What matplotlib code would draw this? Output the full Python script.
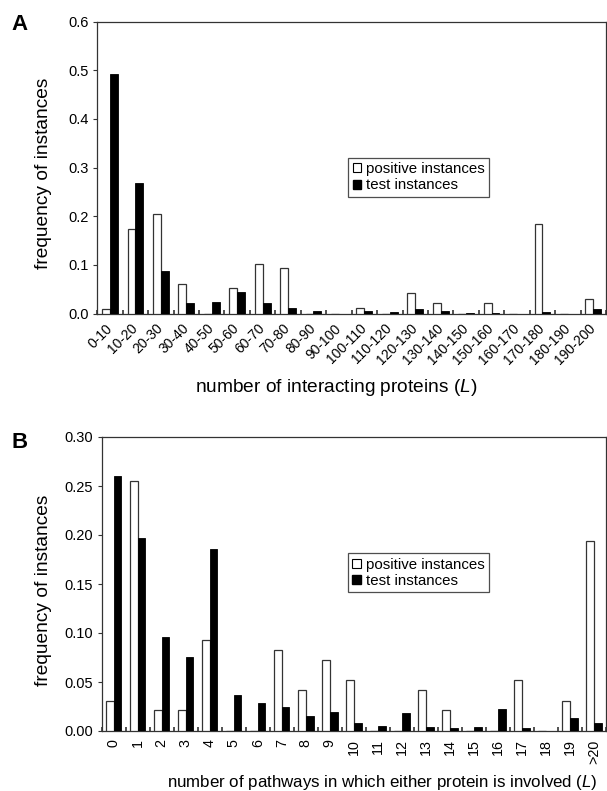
import numpy as np
import matplotlib
matplotlib.use('Agg')
import matplotlib.pyplot as plt
from matplotlib.patches import Patch

plt.rcParams['font.family'] = ['Liberation Sans', 'DejaVu Sans']
plt.rcParams['mathtext.fontset'] = 'custom'
plt.rcParams['mathtext.rm'] = 'Liberation Sans'
plt.rcParams['mathtext.it'] = 'Liberation Sans:italic'

# panel A data
bins_a = ['0-10', '10-20', '20-30', '30-40', '40-50', '50-60', '60-70', '70-80',
          '80-90', '90-100', '100-110', '110-120', '120-130', '130-140', '140-150',
          '150-160', '160-170', '170-180', '180-190', '190-200']
pos_a = [0.010, 0.174, 0.205, 0.062, 0.0, 0.052, 0.103, 0.093, 0.0, 0.0,
         0.011, 0.0, 0.042, 0.021, 0.0, 0.021, 0.0, 0.184, 0.0, 0.031]
test_a = [0.493, 0.268, 0.088, 0.021, 0.025, 0.045, 0.021, 0.012, 0.006, 0.0,
          0.005, 0.004, 0.009, 0.005, 0.002, 0.001, 0.0, 0.003, 0.0, 0.010]

# panel B data
bins_b = [str(i) for i in range(20)] + ['>20']
pos_b = [0.031, 0.255, 0.021, 0.021, 0.093, 0.0, 0.0, 0.083, 0.042, 0.072, 0.052,
         0.0, 0.0, 0.042, 0.021, 0.0, 0.0, 0.052, 0.0, 0.031, 0.194]
test_b = [0.260, 0.197, 0.096, 0.076, 0.186, 0.037, 0.029, 0.024, 0.015, 0.019,
          0.008, 0.005, 0.018, 0.004, 0.003, 0.004, 0.022, 0.003, 0.0, 0.013, 0.008]

fig = plt.figure(figsize=(6.07, 7.91), dpi=100)
W, H = 607, 791

def px_axes(left, top, right, bottom):
    return fig.add_axes([left / W, 1 - bottom / H, (right - left) / W, (bottom - top) / H])

axA = px_axes(97.3, 21.5, 606, 313.7)
axB = px_axes(101.7, 437, 606, 731)


def draw_panel(ax, cats, pos, test, width, ymax, ystep, yfmt, rot, xlabel, xlab_size, leg_xy):
    x = np.arange(len(cats))
    ax.bar(x - width / 2, pos, width, color='white', edgecolor='#333333', linewidth=0.9, zorder=3)
    ax.bar(x + width / 2, test, width, color='black', edgecolor='black', linewidth=0.6, zorder=3)
    ax.set_xlim(-0.5, len(cats) - 0.5)
    ax.set_ylim(0, ymax)
    yt = np.arange(0, ymax + 1e-9, ystep)
    ax.set_yticks(yt)
    ax.set_yticklabels([yfmt.format(v) for v in yt], fontsize=10.5)
    ax.set_xticks(x)
    if rot == 45:
        ax.set_xticklabels(cats, rotation=45, ha='right', va='center',
                           rotation_mode='anchor', fontsize=10)
        ax.tick_params(axis='x', which='major', length=0, pad=9)
    else:
        ax.set_xticklabels(cats, rotation=90, ha='center', va='top', fontsize=10.3)
        ax.tick_params(axis='x', which='major', length=0, pad=6)
    # small marks at the category boundaries
    ax.set_xticks(np.arange(len(cats) + 1) - 0.5, minor=True)
    ax.tick_params(axis='x', which='minor', direction='in', length=3, width=1.2, color='#333333')
    ax.tick_params(axis='y', direction='out', length=3, width=0.8, color='#333333', pad=3)
    for s in ax.spines.values():
        s.set_color('#333333')
        s.set_linewidth(0.9)
    ax.set_xlabel(xlabel, fontsize=xlab_size, va='center')
    handles = [Patch(facecolor='white', edgecolor='black', linewidth=0.8),
               Patch(facecolor='black', edgecolor='black')]
    leg = ax.legend(handles, ['positive instances', 'test instances'], loc='upper left',
                    bbox_to_anchor=leg_xy, borderaxespad=0, fontsize=10.8, frameon=True,
                    fancybox=False, handlelength=0.55, handleheight=0.55, handletextpad=0.35,
                    labelspacing=0.15, borderpad=0.3)
    leg.get_frame().set_edgecolor('#222222')
    leg.get_frame().set_linewidth(0.9)


draw_panel(axA, bins_a, pos_a, test_a, 0.31, 0.6, 0.1, '{:.1f}', 45,
           'number of interacting proteins ($\\mathit{L}$)', 13.8, (0.493, 0.534))
draw_panel(axB, bins_b, pos_b, test_b, 0.32, 0.30, 0.05, '{:.2f}', 90,
           'number of pathways in which either protein is involved ($\\mathit{L}$)', 12.2, (0.488, 0.605))

# x labels placed at their positions in the reference
axA.xaxis.set_label_coords((336.5 - 97.3) / (606 - 97.3), -(387 - 313.7) / (313.7 - 21.5))
axB.xaxis.set_label_coords((382.5 - 101.7) / (606 - 101.7), -(782 - 731) / (731 - 437))

fig.text(44 / W, 1 - 173 / H, 'frequency of instances', rotation=90, ha='center', va='center', fontsize=13.8)
fig.text(44 / W, 1 - 590 / H, 'frequency of instances', rotation=90, ha='center', va='center', fontsize=13.8)
fig.text(19.5 / W, 1 - 25 / H, 'A', ha='center', va='center', fontsize=16, fontweight='bold')
fig.text(20 / W, 1 - 442 / H, 'B', ha='center', va='center', fontsize=16, fontweight='bold')

fig.savefig('out.png', dpi=100)
